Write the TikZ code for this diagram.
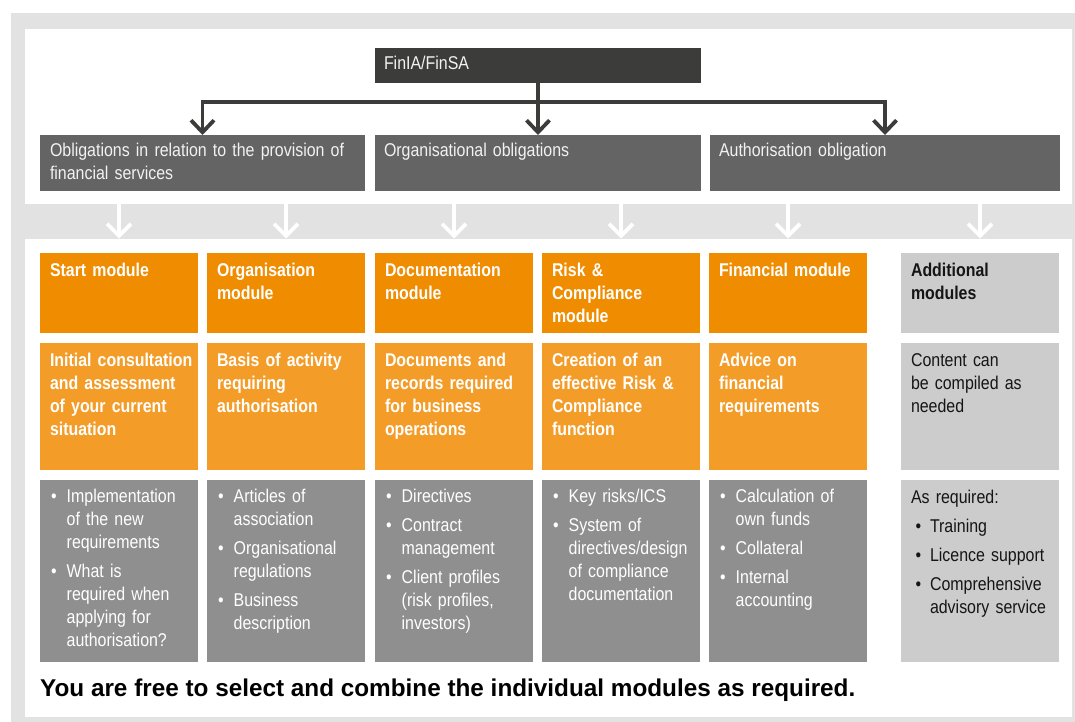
\documentclass[tikz,border=0pt]{standalone}
\usepackage{fontspec}
\setmainfont{Liberation Sans}[UprightFeatures={FakeStretch=0.862},BoldFeatures={FakeStretch=0.86}]
\newfontfamily\plainsans{Liberation Sans}
\usetikzlibrary{arrows.meta}
\definecolor{framegray}{HTML}{E2E2E2}
\definecolor{darkbox}{HTML}{3C3C3B}
\definecolor{obbox}{HTML}{646464}
\definecolor{orangeA}{HTML}{F08C00}
\definecolor{orangeB}{HTML}{F39C28}
\definecolor{grayC}{HTML}{8F8F8F}
\definecolor{addgray}{HTML}{CCCCCC}
\definecolor{lighttext}{HTML}{F2F2F2}
\definecolor{blacktext}{HTML}{151515}
\newcommand\mfont{\fontsize{18.5}{23}\selectfont}
\newlength\bind \setlength\bind{16.7pt}
\newlength\bpre \setlength\bpre{1pt}
\newcommand\bi[1]{\hangindent=\bind\hangafter=1\noindent\hbox to \bind{\kern\bpre\textbullet\hss}#1}
\newcommand\bsep{\par\vspace{6pt}}
\tikzset{
  mbox/.style={anchor=north west, inner sep=0pt, outer sep=0pt, minimum width=158pt},
  mtxt/.style={anchor=base west, inner sep=0pt, outer sep=0pt, text width=400pt, align=left, font=\mfont, text=white},
  conn/.style={draw=darkbox, line width=3.8pt, line join=miter, -{Straight Barb[length=12pt,width=23pt,sharp]}},
  bandarr/.style={draw=white, line width=3.8pt, -{Straight Barb[length=12pt,width=24pt,sharp]}},
}
\newcommand\modcol[5]{%
  \node[mbox,fill=orangeA,minimum height=80pt] (#1h) at (#2,253) {};
  \node[mtxt,font=\mfont\bfseries] (#1ht) at ([xshift=10pt,yshift=-23pt]#1h.north west) {#3};
  \node[mbox,fill=orangeB,minimum height=127pt] (#1d) at (#2,343) {};
  \node[mtxt,font=\mfont\bfseries] (#1dt) at ([xshift=10pt,yshift=-23pt]#1d.north west) {#4};
  \node[mbox,fill=grayC,minimum height=182pt] (#1l) at (#2,480) {};
  \node[mtxt] (#1lt) at ([xshift=10pt,yshift=-22.7pt]#1l.north west) {#5\par};
}
\begin{document}
\begin{tikzpicture}[x=1pt,y=-1pt]
\useasboundingbox (0,0) rectangle (1075,722);
\fill[white] (0,0) rectangle (1075,722);
\fill[framegray] (11,13) rectangle (1075,722);
\fill[white] (25,29) rectangle (1072,204);
\fill[white] (25,239) rectangle (1072,717);

% top level
\node[anchor=north west, inner sep=0pt, outer sep=0pt, minimum width=326pt, minimum height=35pt, fill=darkbox] (fin) at (375,48) {};
\node[mtxt, text=lighttext] (fint) at ([xshift=9pt,yshift=-21.7pt]fin.north west) {FinIA/FinSA};

\node[anchor=north west, inner sep=0pt, outer sep=0pt, minimum width=325pt, minimum height=56pt, fill=obbox] (ob1) at (40,135) {};
\node[anchor=north west, inner sep=0pt, outer sep=0pt, minimum width=326pt, minimum height=56pt, fill=obbox] (ob2) at (375,135) {};
\node[anchor=north west, inner sep=0pt, outer sep=0pt, minimum width=350pt, minimum height=56pt, fill=obbox] (ob3) at (710,135) {};
\node[mtxt, text=lighttext] (ob1t) at ([xshift=10pt,yshift=-21.7pt]ob1.north west) {Obligations in relation to the provision of\\financial services};
\node[mtxt, text=lighttext] (ob2t) at ([xshift=9pt,yshift=-21.7pt]ob2.north west) {Organisational obligations};
\node[mtxt, text=lighttext] (ob3t) at ([xshift=9pt,yshift=-21.7pt]ob3.north west) {Authorisation obligation};

\coordinate (bus) at (538,102);
\draw[conn] (fin.south) -- (ob2.north);
\draw[conn] (ob2.north |- bus) -| (ob1.north);
\draw[conn] (ob2.north |- bus) -| (ob3.north);

% band arrows
\foreach \x [count=\i] in {119,286,454,621,788,980} {
  \coordinate (bt\i) at (\x,204);
  \coordinate (bb\i) at (\x,238.5);
  \draw[bandarr] (bt\i) -- (bb\i);
}

% module columns
\modcol{ca}{40}{Start module}{Initial consultation\\and assessment\\of your current\\situation}{\bi{Implementation\newline of the new\newline requirements}\bsep\bi{What is\newline required when\newline applying for\newline authorisation?}}
\modcol{cb}{207}{Organisation\\module}{Basis of activity\\requiring\\authorisation}{\bi{Articles of\newline association}\bsep\bi{Organisational\newline regulations}\bsep\bi{Business\newline description}}
\modcol{cc}{375}{Documentation\\module}{Documents and\\records required\\for business\\operations}{\bi{Directives}\bsep\bi{Contract\newline management}\bsep\bi{Client profiles\newline (risk profiles,\newline investors)}}
\modcol{cd}{542}{Risk \&\\Compliance\\module}{Creation of an\\effective Risk \&\\Compliance\\function}{\bi{Key risks/ICS}\bsep\bi{System of\newline directives/design\newline of compliance\newline documentation}}
\modcol{ce}{709}{Financial module}{Advice on\\financial\\requirements}{\bi{Calculation of\newline own funds}\bsep\bi{Collateral}\bsep\bi{Internal\newline accounting}}

% additional modules
\node[mbox,fill=addgray,minimum height=80pt] (cfh) at (901,253) {};
\node[mtxt,font=\mfont\bfseries,text=blacktext] (cfht) at ([xshift=10pt,yshift=-23pt]cfh.north west) {Additional\\modules};
\node[mbox,fill=addgray,minimum height=127pt] (cfd) at (901,343) {};
\node[mtxt,text=blacktext] (cfdt) at ([xshift=10pt,yshift=-23pt]cfd.north west) {Content can\\be compiled as\\needed};
\node[mbox,fill=addgray,minimum height=182pt] (cfl) at (901,480) {};
\node[mtxt,text=blacktext] (cflt) at ([xshift=10pt,yshift=-23.3pt]cfl.north west) {\setlength\bind{19pt}\setlength\bpre{4.5pt}As required:\bsep\bi{Training}\bsep\bi{Licence support}\bsep\bi{Comprehensive\newline advisory service}\par};

% footer
\node[anchor=base west, inner sep=0pt, font=\plainsans\bfseries\fontsize{24.3}{28}\selectfont, text=black] (foot) at (40,696) {You are free to select and combine the individual modules as required.};
\end{tikzpicture}
\end{document}
